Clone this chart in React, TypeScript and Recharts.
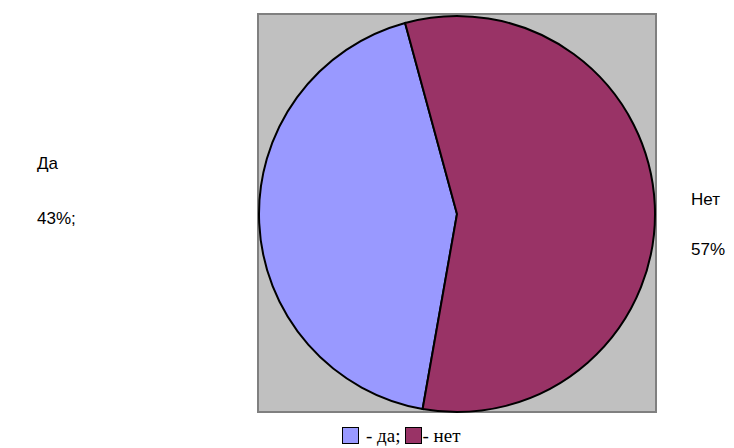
import { PieChart, Pie, Cell, Legend, Customized } from "recharts";

// survey answers, percent
const answers = ["Да", "Нет"];
const shares = [43, 57];
const legendNames = ["да;", "нет"];
const sliceColors = ["#9999FF", "#993366"];

const data = answers.map((name, i) => ({ name, value: shares[i], legend: legendNames[i] }));

// where each outside label sits (left edge x, line baselines)
const labelSpots: Record<string, { x: number; y1: number; y2: number }> = {
  Да: { x: 37, y1: 169, y2: 224 },
  Нет: { x: 691, y1: 205, y2: 255 },
};

const PlotArea = () => (
  <rect x={258} y={14} width={398} height={398} fill="#C0C0C0" stroke="#808080" strokeWidth={2} />
);

const renderLabel = (props: any) => {
  const spot = labelSpots[props.name];
  if (!spot) return null;
  const tail = props.name === "Да" ? ";" : "";
  return (
    <g fontFamily="Liberation Sans, Arial, sans-serif" fontSize={17} fill="#000">
      <text x={spot.x} y={spot.y1}>{props.name}</text>
      <text x={spot.x} y={spot.y2}>{`${props.value}%${tail}`}</text>
    </g>
  );
};

const LegendBox = () => (
  <div
    style={{
      display: "flex",
      alignItems: "center",
      fontFamily: "Liberation Serif, Times New Roman, serif",
      fontSize: 19,
      color: "#000",
      lineHeight: "19px",
    }}
  >
    {data.map((d, i) => (
      <span key={d.name} style={{ display: "flex", alignItems: "center", marginRight: i === 0 ? 5 : 0 }}>
        <span
          style={{
            display: "inline-block",
            width: 15,
            height: 15,
            background: sliceColors[i],
            border: "1px solid #000",
            marginRight: i === 0 ? 7 : 0,
          }}
        />
        <span>- {d.legend}</span>
      </span>
    ))}
  </div>
);

export default function App() {
  return (
    <div style={{ position: "absolute", left: 0, top: 0, width: 734, height: 448, background: "#fff" }}>
      <PieChart width={734} height={448} margin={{ top: 0, right: 0, bottom: 0, left: 0 }}>
        <Customized component={PlotArea} />
        <Pie
          data={data}
          dataKey="value"
          nameKey="name"
          cx={457}
          cy={214}
          outerRadius={198}
          startAngle={-100}
          endAngle={-460}
          stroke="#000"
          strokeWidth={2}
          label={renderLabel}
          labelLine={false}
          isAnimationActive={false}
        >
          {data.map((d, i) => (
            <Cell key={d.name} fill={sliceColors[i]} />
          ))}
        </Pie>
        <Legend
          layout="horizontal"
          verticalAlign="bottom"
          align="left"
          wrapperStyle={{ left: 342, bottom: 3, width: "auto" }}
          content={() => <LegendBox />}
        />
      </PieChart>
    </div>
  );
}
